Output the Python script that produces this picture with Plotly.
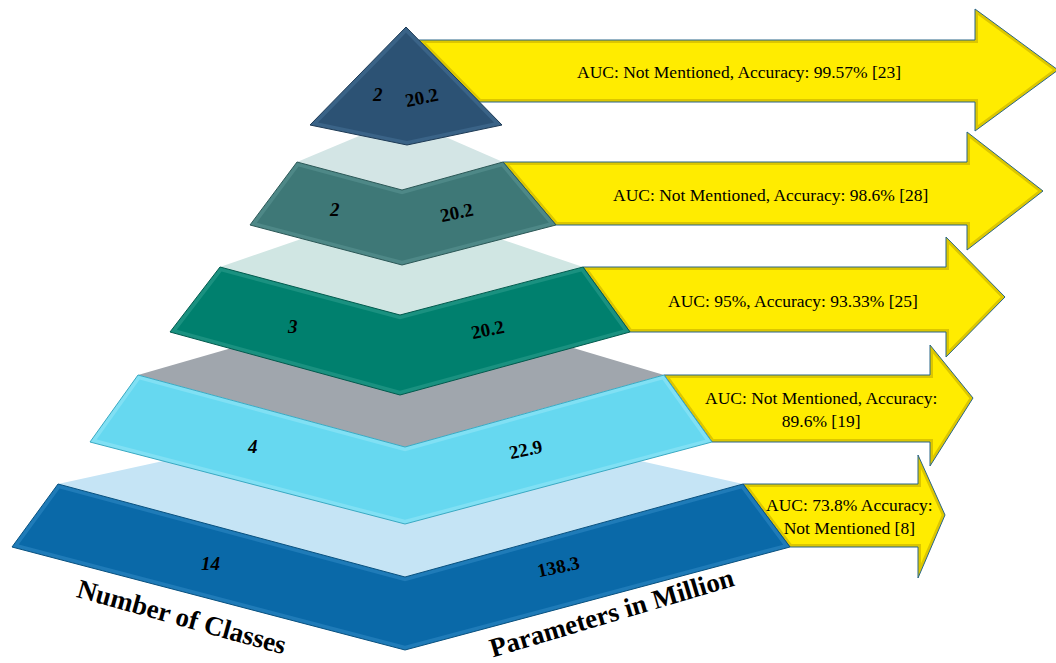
import numpy as np
import plotly.graph_objects as go

# ---- values shown on the pyramid (top tier first) ----
num_classes = ["2", "2", "3", "4", "14"]
params_million = ["20.2", "20.2", "20.2", "22.9", "138.3"]
results = [
    "AUC: Not Mentioned, Accuracy: 99.57% [23]",
    "AUC: Not Mentioned, Accuracy: 98.6% [28]",
    "AUC: 95%, Accuracy: 93.33% [25]",
    "AUC: Not Mentioned, Accuracy:<br>89.6% [19]",
    "AUC: 73.8% Accuracy:<br>Not Mentioned [8]",
]
left_title = "Number of Classes"
right_title = "Parameters in Million"

# ---- colours ----
tier_fill = ["#2c5274", "#3e7877", "#00806e", "#66d8f0", "#0a69a8"]
tier_edge = ["#3a6387", "#4e8887", "#1a9180", "#80e0f4", "#1f7bb8"]
tier_line = ["#1d3a55", "#2a5756", "#005a4d", "#3aa9c2", "#07507f"]
top_face = [None, "#d3e5e5", "#d0e6e3", "#a0a6ad", "#c5e4f5"]
arrow_fill = "#ffec00"
arrow_bevel = "#dcc600"
arrow_line = "#2a6688"

# ---- layout geometry (pixel space, y grows downward) ----
W, H = 1056, 663
# apex triangle: apex, bottom-left, bottom-middle, bottom-right
tri = dict(apex=(406, 27), bl=(310, 125), bm=(407, 145), br=(502, 125))
# chevron bands: TL, TM, TR, BL, BM, BR, back-corner y of the top face
bands = [
    None,
    dict(tl=(297, 162), tm=(402, 190), tr=(503, 162), bl=(250, 225), bm=(402, 265), br=(556, 225), back=118),
    dict(tl=(220, 267), tm=(400, 315), tr=(583, 267), bl=(170, 332), bm=(400, 395), br=(630, 332), back=205),
    dict(tl=(138, 375), tm=(405, 447), tr=(664, 375), bl=(90, 442), bm=(405, 524), br=(712, 442), back=298),
    dict(tl=(58, 484), tm=(405, 577), tr=(743, 484), bl=(12, 547), bm=(405, 650), br=(790, 547), back=408),
]
# arrows: head x, head top, head bottom, tip x, tip y
arrow_heads = [
    (975, 9, 131, 1058, 70),
    (967, 132, 250, 1043, 191),
    (946, 237, 357, 1005, 297),
    (930, 345, 466, 973, 398),
    (918, 455, 578, 945, 515),
]


def inset(pts, d):
    """Offset a closed polygon inward by d pixels (miter joins)."""
    P = np.asarray(pts, float)
    area = 0.5 * np.sum(P[:, 0] * np.roll(P[:, 1], -1) - np.roll(P[:, 0], -1) * P[:, 1])
    s = 1.0 if area > 0 else -1.0
    out = []
    n = len(P)
    for i in range(n):
        p0, p1, p2 = P[i - 1], P[i], P[(i + 1) % n]
        e1, e2 = p1 - p0, p2 - p1
        n1 = s * np.array([-e1[1], e1[0]]) / np.linalg.norm(e1)
        n2 = s * np.array([-e2[1], e2[0]]) / np.linalg.norm(e2)
        m = (n1 + n2) / (1.0 + np.dot(n1, n2))
        out.append(p1 + d * m)
    return np.array(out)


fig = go.Figure()


def poly(pts, fill, line_color=None, width=0):
    P = np.asarray(pts, float)
    xs = list(P[:, 0]) + [P[0, 0]]
    ys = list(P[:, 1]) + [P[0, 1]]
    fig.add_trace(go.Scatter(
        x=xs, y=ys, mode="lines", fill="toself", fillcolor=fill,
        line=dict(color=line_color or fill, width=width),
        hoverinfo="skip", showlegend=False))


def bevel_poly(pts, fill, edge, line_color, d=4):
    poly(pts, edge, line_color, 1)
    poly(inset(pts, d), fill, fill, 0)


def on_segment_x(p, q, y):
    return p[0] + (q[0] - p[0]) * (y - p[1]) / (q[1] - p[1])


# ---- arrows (drawn first, the pyramid sits over their tails) ----
for i, (hx, ht, hb, tx, ty) in enumerate(arrow_heads):
    if i == 0:
        top_y, bot_y = 40, 102
        lt = (on_segment_x(tri["apex"], tri["br"], top_y), top_y)
        lb = (on_segment_x(tri["apex"], tri["br"], bot_y), bot_y)
    else:
        lt, lb = bands[i]["tr"], bands[i]["br"]
    shape = [lt, (hx, lt[1]), (hx, ht), (tx, ty), (hx, hb), (hx, lb[1]), lb]
    bevel_poly(shape, arrow_fill, arrow_bevel, arrow_line, d=3)

# ---- pyramid tiers, bottom to top ----
for i in range(len(num_classes) - 1, 0, -1):
    b = bands[i]
    cx = b["tm"][0]
    face = [b["tl"], (cx, b["back"]), b["tr"], b["tm"]]
    poly(face, top_face[i])
    band = [b["tl"], b["tm"], b["tr"], b["br"], b["bm"], b["bl"]]
    bevel_poly(band, tier_fill[i], tier_edge[i], tier_line[i], d=4)

tri_pts = [tri["apex"], tri["br"], tri["bm"], tri["bl"]]
bevel_poly(tri_pts, tier_fill[0], tier_edge[0], tier_line[0], d=4)

# ---- labels ----
ann = []
num_font = dict(family="Liberation Serif", size=19, color="black")

# apex values
ann.append(dict(x=377, y=94, text=f"<b><i>{num_classes[0]}</i></b>", font=num_font, textangle=0))
ann.append(dict(x=421, y=97, text=f"<b>{params_million[0]}</b>", font=num_font, textangle=-12))

for i in range(1, len(num_classes)):
    b = bands[i]
    cx = b["tm"][0]
    lx = (b["tl"][0] + b["tm"][0] + b["bm"][0] + b["bl"][0]) / 4
    ly = (b["tl"][1] + b["tm"][1] + b["bm"][1] + b["bl"][1]) / 4
    rx = (b["tr"][0] + b["tm"][0] + b["bm"][0] + b["br"][0]) / 4
    ry = (b["tr"][1] + b["tm"][1] + b["bm"][1] + b["br"][1]) / 4
    ann.append(dict(x=cx + 1.05 * (lx - cx), y=ly - 1, text=f"<b><i>{num_classes[i]}</i></b>",
                    font=num_font, textangle=0))
    ann.append(dict(x=cx + 0.85 * (rx - cx), y=ry + 2, text=f"<b>{params_million[i]}</b>",
                    font=num_font, textangle=-12))

# result texts inside the arrows
for i, txt in enumerate(results):
    hx = arrow_heads[i][0]
    if i == 0:
        left_x, top_y, bot_y = 450, 40, 102
    else:
        left_x = (bands[i]["tr"][0] + bands[i]["br"][0]) / 2
        top_y, bot_y = bands[i]["tr"][1], bands[i]["br"][1]
    ann.append(dict(x=0.45 * left_x + 0.55 * hx, y=(top_y + bot_y) / 2 + 1, text=txt,
                    font=dict(family="Liberation Serif", size=17.5, color="black"),
                    align="center"))

title_font = dict(family="Liberation Serif", size=27, color="black")
ann.append(dict(x=182, y=617, text=f"<b>{left_title}</b>", font=title_font, textangle=15.5))
ann.append(dict(x=611, y=613, text=f"<b>{right_title}</b>", font=title_font, textangle=-16.5))

for a in ann:
    a.update(xref="x", yref="y", showarrow=False, xanchor="center", yanchor="middle")

fig.update_layout(
    width=W, height=H,
    margin=dict(l=0, r=0, t=0, b=0),
    paper_bgcolor="white", plot_bgcolor="white",
    xaxis=dict(range=[0, W], visible=False, fixedrange=True),
    yaxis=dict(range=[H, 0], visible=False, fixedrange=True),
    annotations=ann,
    showlegend=False,
)

fig.write_html("out.html")
